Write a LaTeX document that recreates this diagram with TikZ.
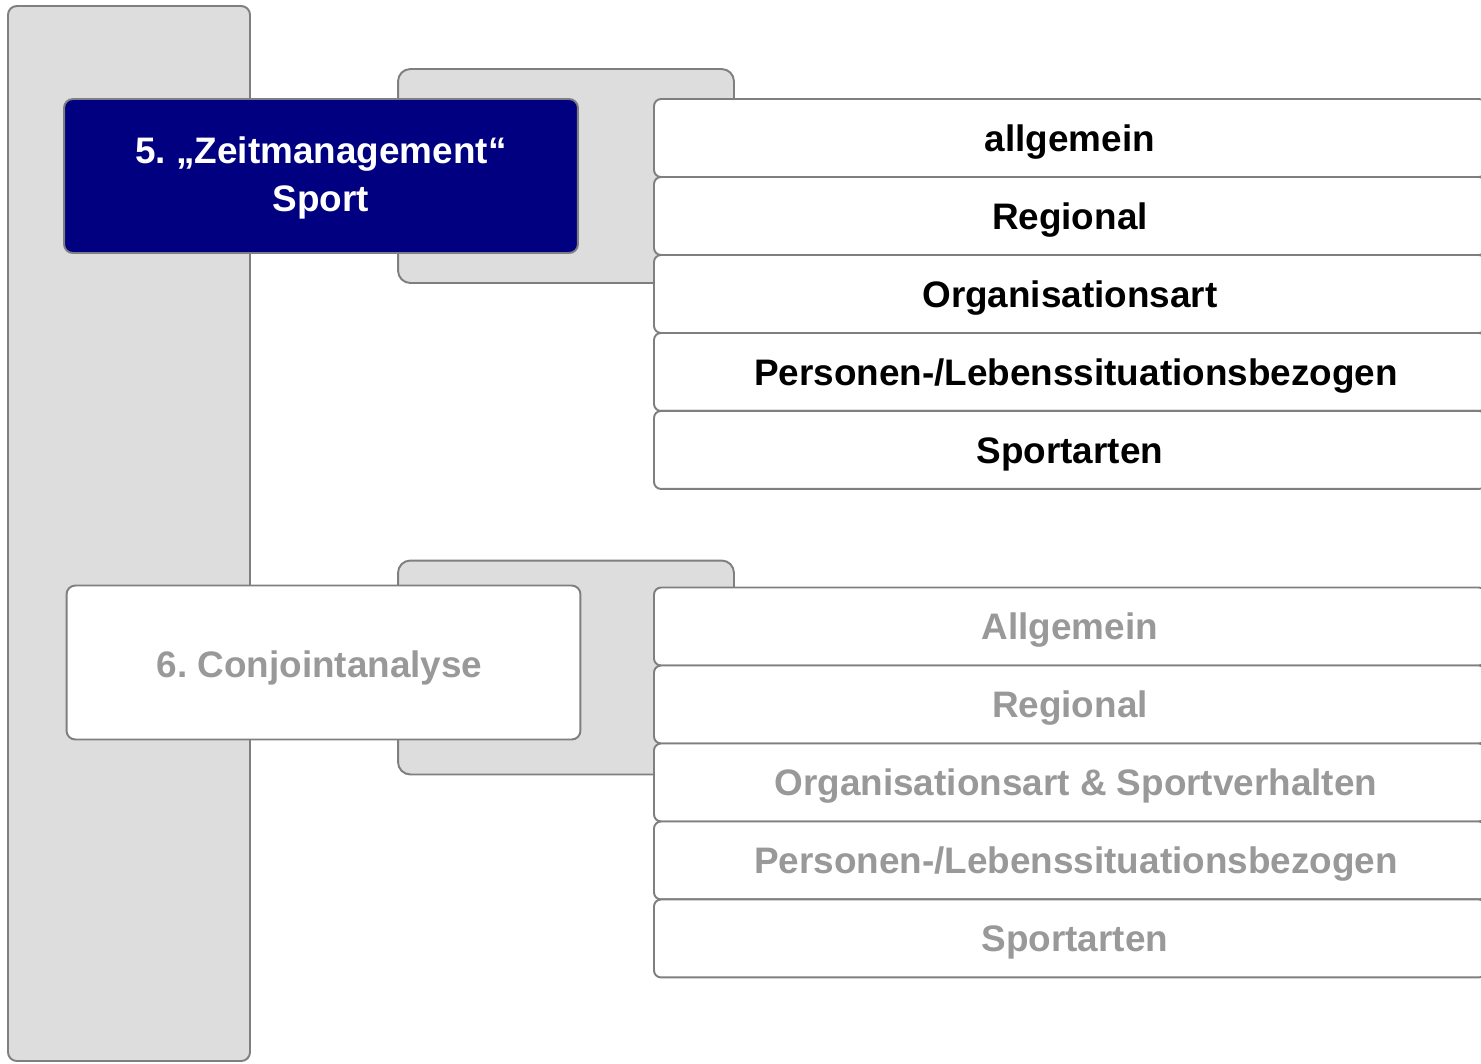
\documentclass[tikz,border=0pt]{standalone}
\usepackage{fontspec}
\setmainfont{Liberation Sans}
\frenchspacing
\usetikzlibrary{positioning}
\definecolor{rahmen}{HTML}{7F7F7F}
\definecolor{flaeche}{HTML}{DDDDDD}
\definecolor{navy}{HTML}{000080}
\definecolor{blass}{HTML}{999999}
\tikzset{
  saeule/.style ={draw=rahmen,line width=1.1pt,fill=flaeche,rounded corners=5pt},
  klammer/.style={draw=rahmen,line width=1.1pt,fill=flaeche,rounded corners=7pt,
                  minimum width=6.72cm,minimum height=4.28cm,inner sep=0pt},
  aktiv/.style  ={draw=rahmen,line width=1.1pt,fill=navy,rounded corners=5pt,
                  text=white,align=center,font=\fontsize{21}{27.8}\selectfont\bfseries,
                  minimum width=10.28cm,minimum height=3.08cm,inner sep=0pt},
  passiv/.style ={aktiv,fill=white,text=blass},
  punkt/.style  ={draw=rahmen,line width=1.1pt,fill=white,rounded corners=4pt,
                  font=\fontsize{21}{24}\selectfont\bfseries,outer sep=0pt,
                  text height=15pt,text depth=0pt,
                  minimum width=16.64cm,minimum height=1.56cm,inner sep=0pt},
  blasspunkt/.style={punkt,text=blass},
}

\begin{document}
\begin{tikzpicture}[x=0.02cm,y=-0.02cm,node distance=0pt]
\useasboundingbox (0,0) rectangle (1481,1063);
\clip (0,0) rectangle (1481,1063);
\draw[saeule] (8,6) rectangle (250,1061);
% Block 5
\node[klammer] (K5) at (566,176) {};
\node[aktiv,text height=40.8pt,text depth=0pt] (B5) at (321,176) {5. „Zeitmanagement“\\Sport};
\node[punkt,anchor=west] (A1) at (654,138) {allgemein};
\node[punkt,below=of A1] (A2) {Regional};
\node[punkt,below=of A2] (A3) {Organisationsart};
\node[punkt,below=of A3] (A4) {\hspace*{0.24cm}Personen-/Lebenssituationsbezogen};
\node[punkt,below=of A4] (A5) {Sportarten};
% Block 6
\node[klammer] (K6) at (566,667.5) {};
\node[passiv,text height=17.2pt,text depth=0pt] (B6) at (323.5,662.5) {\hspace*{-0.16cm}6. Conjointanalyse};
\node[blasspunkt,anchor=west] (C1) at (654,626.5) {Allgemein};
\node[blasspunkt,below=of C1] (C2) {Regional};
\node[blasspunkt,below=of C2] (C3) {\hspace*{0.24cm}Organisationsart \& Sportverhalten};
\node[blasspunkt,below=of C3] (C4) {\hspace*{0.24cm}Personen-/Lebenssituationsbezogen};
\node[blasspunkt,below=of C4] (C5) {\hspace*{0.2cm}Sportarten};
\end{tikzpicture}
\end{document}
